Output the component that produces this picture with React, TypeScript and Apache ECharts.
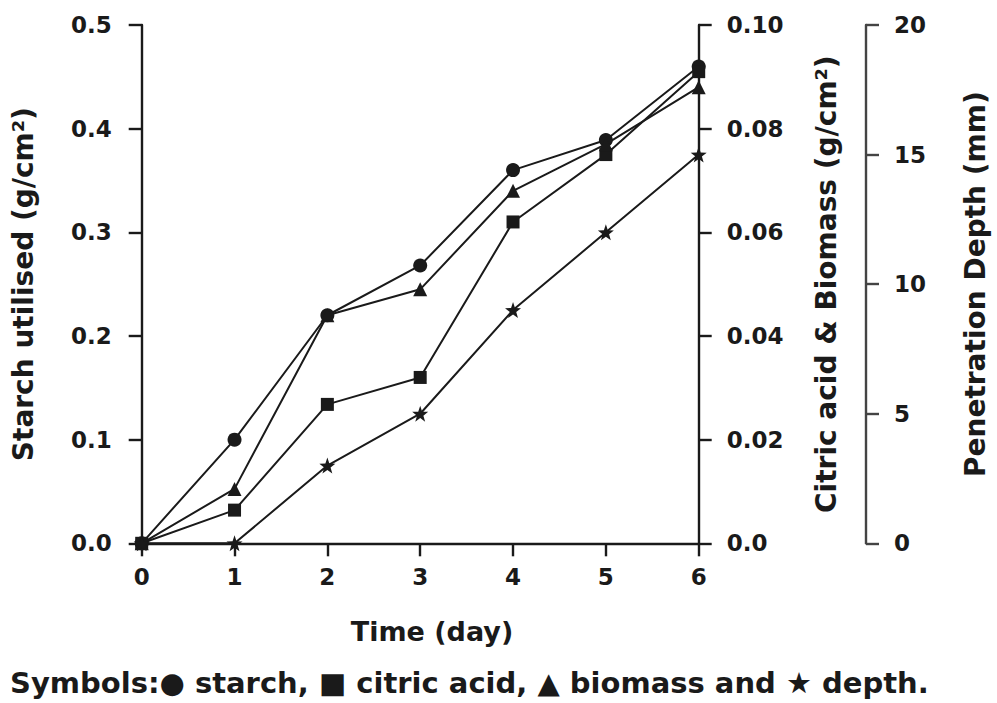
import React, { useEffect, useRef } from "react";
import * as echarts from "echarts";

const days = [0, 1, 2, 3, 4, 5, 6];
const starch = [0, 0.1, 0.22, 0.268, 0.36, 0.389, 0.46];
const citricAcid = [0, 0.0064, 0.0268, 0.032, 0.062, 0.075, 0.091];
const biomass = [0, 0.0105, 0.044, 0.049, 0.068, 0.077, 0.088];
const depth = [0, 0, 3, 5, 9, 12, 15];

const STAR =
  "path://M50 0 L61.76 33.82 L97.55 34.55 L69.02 56.18 L79.39 90.45 L50 70 L20.61 90.45 L30.98 56.18 L2.45 34.55 L38.24 33.82 Z";

const FONT = "DejaVu Sans";
const INK = "#1a1a1a";

function pairs(vals: number[]) {
  return days.map((d, i) => [d, vals[i]]);
}

export default function App() {
  const ref = useRef<HTMLDivElement>(null);
  useEffect(() => {
    const chart = echarts.init(ref.current!, undefined, { renderer: "svg" });
    const tickLabel = {
      color: INK,
      fontFamily: FONT,
      fontWeight: "bold" as const,
      fontSize: 23,
    };
    const nameStyle = {
      color: INK,
      fontFamily: FONT,
      fontWeight: "bold" as const,
      fontSize: 28,
    };
    const lineStyle = { color: INK, width: 2.4 };
    const tick = { show: true, inside: false, length: 13, lineStyle: { color: INK, width: 2.4 } };
    const seriesBase = {
      type: "line" as const,
      color: INK,
      lineStyle: { color: INK, width: 2 },
      itemStyle: { color: INK },
      showSymbol: true,
    };
    chart.setOption({
      animation: false,
      backgroundColor: "#ffffff",
      grid: { left: 141.7, right: 294.3, top: 25, bottom: 159.7, containLabel: false },
      xAxis: {
        type: "value",
        min: 0,
        max: 6,
        interval: 1,
        axisLine: { show: true, lineStyle },
        axisTick: tick,
        axisLabel: { ...tickLabel, margin: 22 },
        splitLine: { show: false },
      },
      yAxis: [
        {
          type: "value",
          position: "left",
          min: 0,
          max: 0.5,
          interval: 0.1,
          name: "Starch utilised (g/cm²)",
          nameLocation: "middle",
          nameRotate: 90,
          nameGap: 104,
          nameTextStyle: nameStyle,
          axisLine: { show: true, lineStyle },
          axisTick: tick,
          axisLabel: { ...tickLabel, margin: 30, formatter: (v: number) => v.toFixed(1) },
          splitLine: { show: false },
        },
        {
          type: "value",
          position: "right",
          min: 0,
          max: 0.1,
          interval: 0.02,
          name: "Citric acid & Biomass (g/cm²)",
          nameLocation: "middle",
          nameRotate: 90,
          nameGap: 114,
          nameTextStyle: nameStyle,
          axisLine: { show: true, lineStyle },
          axisTick: tick,
          axisLabel: {
            ...tickLabel,
            margin: 28,
            formatter: (v: number) => (v === 0 ? "0.0" : v.toFixed(2)),
          },
          splitLine: { show: false },
        },
        {
          type: "value",
          position: "right",
          offset: 167.3,
          min: 0,
          max: 20,
          interval: 5,
          name: "Penetration Depth (mm)",
          nameLocation: "middle",
          nameRotate: 90,
          nameGap: 95,
          nameTextStyle: nameStyle,
          axisLine: { show: true, lineStyle: { color: "#444", width: 2.4 } },
          axisTick: { ...tick, lineStyle: { color: "#444", width: 2.4 } },
          axisLabel: { ...tickLabel, margin: 28 },
          splitLine: { show: false },
        },
      ],
      series: [
        {
          ...seriesBase,
          name: "starch",
          yAxisIndex: 0,
          symbol: "circle",
          symbolSize: 14,
          data: pairs(starch),
        },
        {
          ...seriesBase,
          name: "citric acid",
          yAxisIndex: 1,
          symbol: "rect",
          symbolSize: 13,
          data: pairs(citricAcid),
        },
        {
          ...seriesBase,
          name: "biomass",
          yAxisIndex: 1,
          symbol: "triangle",
          symbolSize: 14,
          data: pairs(biomass),
        },
        {
          ...seriesBase,
          name: "depth",
          yAxisIndex: 2,
          symbol: STAR,
          symbolSize: 16,
          data: pairs(depth),
        },
      ],
      graphic: [
        {
          type: "text",
          x: 432,
          y: 631,
          style: {
            text: "Time (day)",
            fill: INK,
            font: `bold 27px "${FONT}"`,
            textAlign: "center",
            textVerticalAlign: "middle",
          },
        },
        {
          type: "text",
          x: 10,
          y: 683,
          style: {
            text: "Symbols:● starch, ■ citric acid, ▲ biomass and ★ depth.",
            fill: INK,
            font: `bold 29px "${FONT}"`,
            textAlign: "left",
            textVerticalAlign: "middle",
          },
        },
      ],
    });
    return () => chart.dispose();
  }, []);
  return (
    <div
      ref={ref}
      style={{ position: "fixed", left: 0, top: 0, width: 997, height: 703, background: "#fff" }}
    />
  );
}
